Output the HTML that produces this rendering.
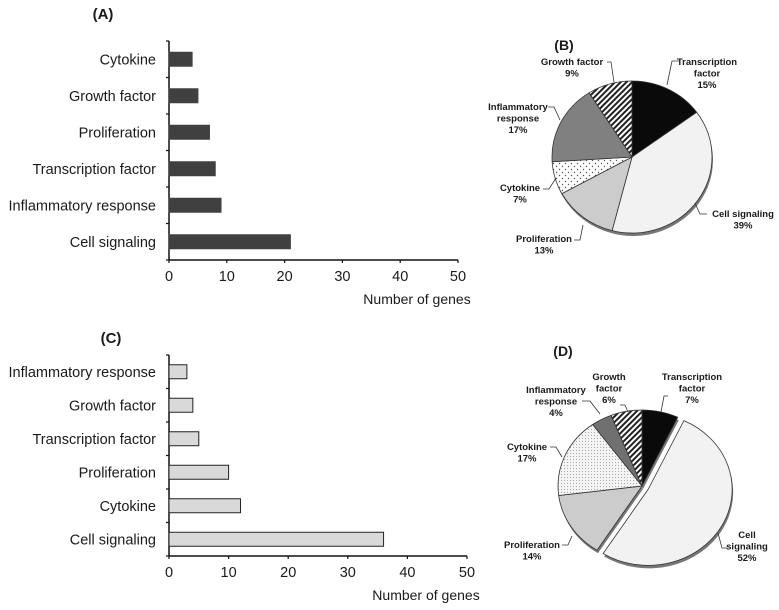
<!DOCTYPE html>
<html><head><meta charset="utf-8"><style>
body{margin:0;background:#fff;}
svg{display:block;font-family:"Liberation Sans",Arial,sans-serif;}
</style></head><body>
<svg id="fig" width="779" height="610" viewBox="0 0 779 610">
<defs>
<pattern id="stripes" patternUnits="userSpaceOnUse" width="4" height="4" patternTransform="rotate(45)">
<rect width="4" height="4" fill="#fff"/><rect width="2" height="4" fill="#222"/></pattern>
<pattern id="dots" patternUnits="userSpaceOnUse" width="6" height="6">
<rect width="6" height="6" fill="#fff"/><circle cx="1.5" cy="1.5" r="0.7" fill="#555"/><circle cx="4.5" cy="4.5" r="0.7" fill="#555"/></pattern>
<pattern id="dots2" patternUnits="userSpaceOnUse" width="3" height="3">
<rect width="3" height="3" fill="#f4f4f4"/><rect width="1" height="1" fill="#aaa"/></pattern>
</defs>
<g id="root"></g>
</svg>
<script>
// Panel A data
const catsA = ["Cytokine","Growth factor","Proliferation","Transcription factor","Inflammatory response","Cell signaling"];
const valsA = [4,5,7,8,9,21];
// Panel C data
const catsC = ["Inflammatory response","Growth factor","Transcription factor","Proliferation","Cytokine","Cell signaling"];
const valsC = [3,4,5,10,12,36];
const ticks = [0,10,20,30,40,50];
// Panel B pie data
const labelsB = ["Transcription factor","Cell signaling","Proliferation","Cytokine","Inflammatory response","Growth factor"];
const pctB = [15,39,13,7,17,9];
// Panel D pie data
const labelsD = ["Transcription factor","Cell signaling","Proliferation","Cytokine","Inflammatory response","Growth factor"];
const pctD = [7,52,14,17,4,6];

const NS="http://www.w3.org/2000/svg";
const root=document.getElementById('root');
function mk(tag,attrs,parent){const e=document.createElementNS(NS,tag);for(const k in attrs)e.setAttribute(k,attrs[k]);(parent||root).appendChild(e);return e;}
function txt(x,y,s,size,anchor,weight,parent){const t=mk('text',{x:x,y:y,'font-size':size,'text-anchor':anchor||'middle','font-weight':weight||'normal',fill:'#1a1a1a'},parent);t.textContent=s;return t;}

function barChart(cats,vals,o){
  const g=mk('g',{});
  
  
  const xs=v=>o.x0+(o.x1-o.x0)*v/50;
  const band=(o.yb-o.yt)/cats.length;
  mk('line',{x1:o.x0,y1:o.yt,x2:o.x0,y2:o.yb,stroke:'#111','stroke-width':1.5},g);
  mk('line',{x1:o.x0,y1:o.yb,x2:o.x1,y2:o.yb,stroke:'#111','stroke-width':1.5},g);
  for(let i=0;i<=cats.length;i++){mk('line',{x1:o.x0-3,y1:o.yt+i*band,x2:o.x0,y2:o.yt+i*band,stroke:'#111','stroke-width':1.2},g);}
  cats.forEach((c,i)=>{
    const cy=o.yt+band*(i+0.5);
    const r=mk('rect',{x:o.x0,y:cy-7,width:xs(vals[i])-o.x0,height:14,fill:o.fill,stroke:o.stroke,'stroke-width':1},g);
    
    
    const t=txt(156,cy+5,c,14.5,'end','normal',g);
    
    
  });
  ticks.forEach(v=>{
    mk('line',{x1:xs(v),y1:o.yb,x2:xs(v),y2:o.yb+3,stroke:'#111','stroke-width':1.2},g);
    const t=txt(xs(v),o.yb+21,String(v),14.5,'middle','normal',g);
    
    
  });
  const at=txt(o.x1-41,o.yb+44,'Number of genes',14,'middle','normal',g);
  
  
  const pt=txt(o.px,o.py,o.panel,15,'middle','bold',g);
  
  
}
barChart(catsA,valsA,{name:'bar-chart-a',x0:169,x1:458,yt:41,yb:260,fill:'#404040',stroke:'#404040',panel:'(A)',px:103,py:19});
barChart(catsC,valsC,{name:'bar-chart-c',x0:169,x1:467,yt:355,yb:556,fill:'#d9d9d9',stroke:'#222',panel:'(C)',px:111,py:343});

const fillsB=['#0a0a0a','#f2f2f2','#cccccc','url(#dots)','#808080','url(#stripes)'];
const fillsD=['#0a0a0a','#f2f2f2','#cccccc','url(#dots2)','#707070','url(#stripes)'];
function pie(labels,pct,o){
  const g=mk('g',{});
  
  
  const tot=pct.reduce((a,b)=>a+b,0);
  const geo=[];
  let acc=0;
  pct.forEach((p,i)=>{
    const a0=acc/tot*2*Math.PI, a1=(acc+p)/tot*2*Math.PI; acc+=p;
    const mid=(a0+a1)/2;
    const off=(o.explode===i)?7:0;
    geo.push({a0,a1,cx:o.cx+off*Math.sin(mid),cy:o.cy-off*Math.cos(mid)});
  });
  const path=(G,dx,dy)=>{
    const x0=G.cx+o.rx*Math.sin(G.a0)+dx,y0=G.cy-o.ry*Math.cos(G.a0)+dy,x1=G.cx+o.rx*Math.sin(G.a1)+dx,y1=G.cy-o.ry*Math.cos(G.a1)+dy;
    const large=(G.a1-G.a0)>Math.PI?1:0;
    return `M${G.cx+dx} ${G.cy+dy}L${x0} ${y0}A${o.rx} ${o.ry} 0 ${large} 1 ${x1} ${y1}Z`;
  };
  geo.forEach(G=>mk('path',{d:path(G,1,3),fill:'#777'},g));
  geo.forEach((G,i)=>{
    const s=mk('path',{d:path(G,0,0),fill:o.fills[i],stroke:'#333','stroke-width':0.8},g);
    
    
  });
  o.labels.forEach((L,i)=>{
    const lg=mk('g',{},g);
    
    
    L.lines.forEach((s,j)=>txt(L.x,L.y+j*11.5,s,9.5,'middle','bold',lg));
    txt(L.x,L.y+L.lines.length*11.5,pct[i]+'%',9.5,'middle','bold',lg);
    if(L.lead) mk('polyline',{points:L.lead,fill:'none',stroke:'#333','stroke-width':0.8},lg);
  });
  const pt=txt(o.px,o.py,o.panel,14,'middle','bold',g);
  
  
}
pie(labelsB,pctB,{name:'pie-chart-b',cx:632,cy:157,rx:80,ry:76,fills:fillsB,explode:-1,panel:'(B)',px:564,py:50,
 labels:[
  {x:707,y:65,lines:['Transcription','factor'],lead:'679,61 672,61 667,85'},
  {x:743,y:217,lines:['Cell signaling'],lead:'707,214 700,214 695,203'},
  {x:544,y:242,lines:['Proliferation'],lead:'574,240 580,240 583,225'},
  {x:520,y:191,lines:['Cytokine'],lead:'543,189 549,189 556,178'},
  {x:518,y:110,lines:['Inflammatory','response'],lead:'548,107 554,107 560,120'},
  {x:572,y:65,lines:['Growth factor'],lead:'607,62 611,62 614,82'}
 ]});
pie(labelsD,pctD,{name:'pie-chart-d',cx:642,cy:486,rx:84,ry:76,fills:fillsD,explode:1,panel:'(D)',px:563,py:356,
 labels:[
  {x:692,y:380,lines:['Transcription','factor'],lead:'668,396 664,396 661,412'},
  {x:747,y:538,lines:['Cell','signaling'],lead:'727,548 722,548 718,533'},
  {x:532,y:548,lines:['Proliferation'],lead:'562,545 568,545 572,536'},
  {x:527,y:450,lines:['Cytokine'],lead:'550,447 556,447 562,457'},
  {x:556,y:393,lines:['Inflammatory','response'],lead:'582,401 590,401 600,414'},
  {x:609,y:380,lines:['Growth','factor'],lead:'620,405 625,405 628,412'}
 ]});
</script>
</body></html>
